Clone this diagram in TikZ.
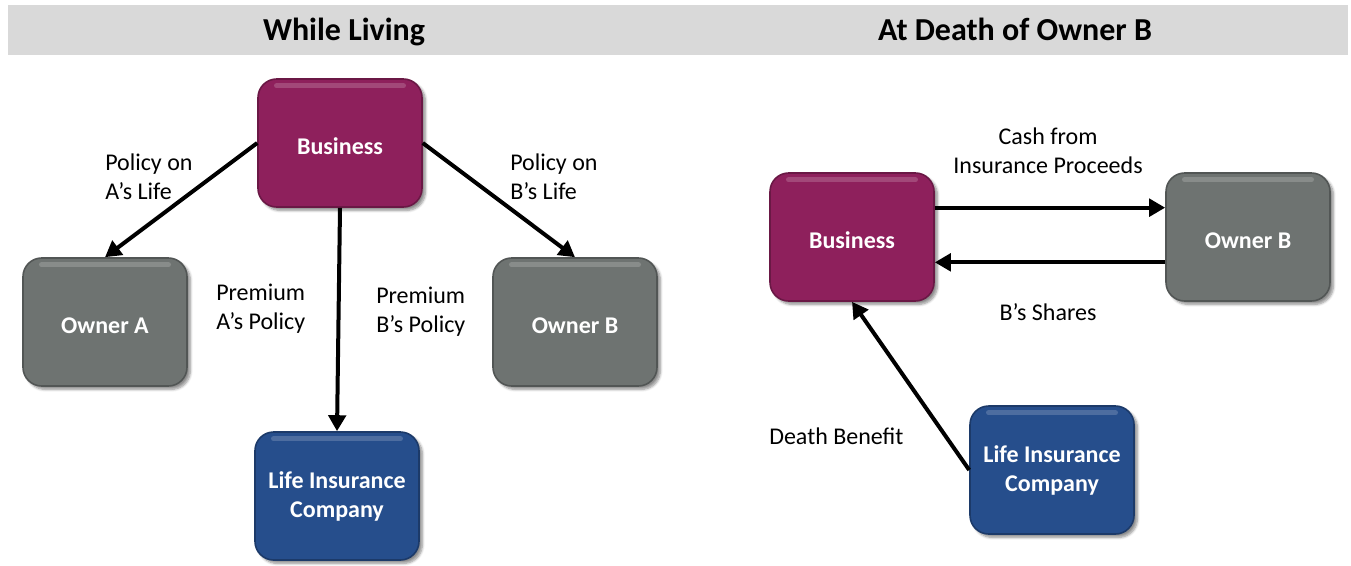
\documentclass[tikz,border=0pt]{standalone}
\usepackage{fontspec}
\setmainfont{Carlito}
\usetikzlibrary{arrows.meta,shadows.blur}
\definecolor{biz}{RGB}{142,32,92}
\definecolor{own}{RGB}{110,115,113}
\definecolor{ins}{RGB}{38,78,140}
\definecolor{hdr}{RGB}{217,217,217}
\tikzset{
  box/.style={rounded corners=14pt, minimum width=123pt, minimum height=96pt,
    inner sep=2pt, align=center, text=white, font=\fontsize{18}{21.75}\selectfont\bfseries,
    draw=#1!75!black, line width=1.2pt, fill=#1,
    blur shadow={shadow xshift=2.5pt, shadow yshift=-2.5pt, shadow blur steps=6, shadow opacity=45},
    path picture={\draw[white,opacity=0.18,line width=4pt,line cap=round]
      ([xshift=14pt,yshift=-5pt]path picture bounding box.north west) --
      ([xshift=-14pt,yshift=-5pt]path picture bounding box.north east);}},
  oneline/.style={text height=17pt, text depth=0pt},
  lbl/.style={inner sep=0pt, font=\fontsize{18}{21.75}\selectfont},
  hd/.style={inner sep=0pt, font=\fontsize{24}{28}\selectfont\bfseries},
  arr/.style={line width=3pt, -{Triangle[length=12pt,width=13pt]}}
}
\begin{document}
\begin{tikzpicture}[x=0.75pt,y=-0.75pt]
\useasboundingbox (0,0) rectangle (1351,565);
\fill[hdr] (8,5) rectangle (1348,55);
\node[hd, anchor=base] (h1) at (344,40) {While Living};
\node[hd, anchor=base] (h2) at (1015,40) {At Death of Owner B};

% left diagram
\node[box=biz, oneline] (bizL) at (340,143) {Business};
\node[box=own, oneline] (ownA) at (105,322) {Owner A};
\node[box=own, oneline] (ownBL) at (575,322) {Owner B};
\node[box=ins] (lifeL) at (337,496) {Life Insurance\\Company};

\draw[arr] (bizL.west) -- (ownA.north);
\draw[arr] (bizL.east) -- (ownBL.north);
\draw[arr] (bizL.south) -- (lifeL.north);

\node[lbl, align=left, anchor=west] (l1) at (105,177) {Policy on\\A’s Life};
\node[lbl, align=left, anchor=west] (l2) at (510,177) {Policy on\\B’s Life};
\node[lbl, align=left, anchor=west] (l3) at (216,309) {Premium\\A’s Policy};
\node[lbl, align=left, anchor=west] (l4) at (376,312) {Premium\\B’s Policy};

% right diagram
\node[box=biz, oneline] (bizR) at (852,237) {Business};
\node[box=own, oneline] (ownBR) at (1248,237) {Owner B};
\node[box=ins] (lifeR) at (1052,470) {Life Insurance\\Company};

\draw[arr] ([yshift=22pt]bizR.east) -- ([yshift=22pt]ownBR.west);
\draw[arr] ([yshift=-19pt]ownBR.west) -- ([yshift=-19pt]bizR.east);
\draw[arr] (lifeR.west) -- (bizR.south);

\node[lbl, align=center] (r1) at (1048,151) {Cash from\\Insurance Proceeds};
\node[lbl] (r2) at (1048,312) {B’s Shares};
\node[lbl, anchor=west] (r3) at (769,436) {Death Benefit};
\end{tikzpicture}
\end{document}
